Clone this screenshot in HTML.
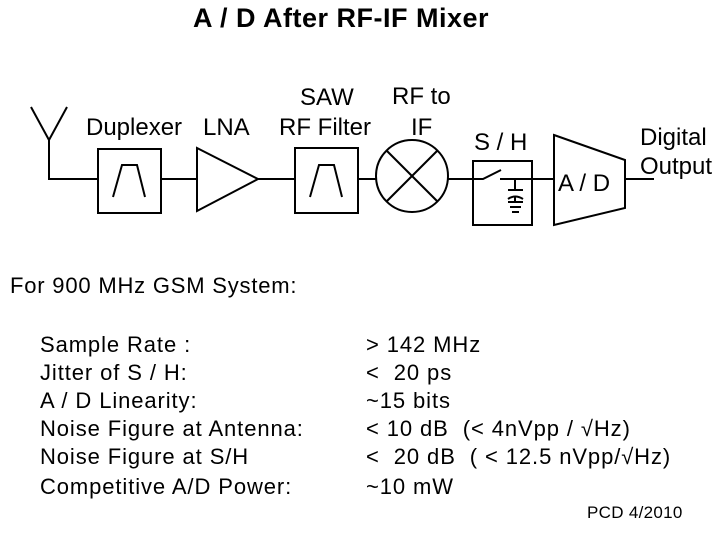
<!DOCTYPE html>
<html><head><meta charset="utf-8"><style>
html,body{margin:0;padding:0;background:#fff;}
body{width:720px;height:540px;position:relative;overflow:hidden;font-family:"Liberation Sans",Arial,sans-serif;color:#000;}
.t{position:absolute;white-space:nowrap;font-size:24px;line-height:1;}
.l{font-size:22px;letter-spacing:0.9px;}
</style></head><body>
<svg width="720" height="540" style="position:absolute;left:0;top:0" xmlns="http://www.w3.org/2000/svg">
<g fill="none" stroke="#000" stroke-width="2">
<polyline points="31,107 49,140 67,107"/>
<polyline points="49,140 49,179 98,179"/>
<rect x="98" y="149" width="63" height="64"/>
<polyline points="113,197 122,165 137,165 145,197"/>
<line x1="161" y1="179" x2="197" y2="179"/>
<polygon points="197,148 258,179 197,211"/>
<line x1="258" y1="179" x2="295" y2="179"/>
<rect x="295" y="148" width="63" height="65"/>
<polyline points="310,197 319,165 334,165 342,197"/>
<line x1="358" y1="179" x2="376" y2="179"/>
<circle cx="412" cy="176" r="36"/>
<line x1="387" y1="151" x2="437" y2="201"/>
<line x1="437" y1="151" x2="387" y2="201"/>
<line x1="448" y1="179" x2="473" y2="179"/>
<rect x="473" y="161" width="59" height="64"/>
<polyline points="473,179 483,179 501,170"/>
<line x1="500" y1="179" x2="554" y2="179"/>
<line x1="515" y1="179" x2="515" y2="190"/>
<line x1="508" y1="190" x2="523" y2="190"/>
<path d="M508,199 Q515,194 523,199"/>
<line x1="515" y1="197" x2="515" y2="202"/>
<line x1="508" y1="202" x2="523" y2="202"/>
<line x1="510" y1="207" x2="521" y2="207"/>
<line x1="512" y1="212" x2="519" y2="212"/>
<polygon points="554,135 625,160 625,208 554,225"/>
<line x1="625" y1="179" x2="654" y2="179"/>
</g>
</svg>
<div class="t" style="left:193px;top:5px;font-weight:bold;font-size:27px;letter-spacing:0.5px">A / D After RF-IF Mixer</div>
<div class="t" style="left:86px;top:116px">Duplexer</div>
<div class="t" style="left:203px;top:116px">LNA</div>
<div class="t" style="left:300px;top:86px">SAW</div>
<div class="t" style="left:279px;top:116px">RF Filter</div>
<div class="t" style="left:392px;top:85px">RF to</div>
<div class="t" style="left:411px;top:116px">IF</div>
<div class="t" style="left:474px;top:131px">S / H</div>
<div class="t" style="left:558px;top:172px">A / D</div>
<div class="t" style="left:640px;top:126px">Digital</div>
<div class="t" style="left:640px;top:155px">Output</div>
<div class="t" style="left:10px;top:275px;font-size:22px;letter-spacing:0.8px">For 900 MHz GSM System:</div>
<div class="t l" style="left:40px;top:334px">Sample Rate :</div>
<div class="t l" style="left:40px;top:362px">Jitter of S / H:</div>
<div class="t l" style="left:40px;top:390px">A / D Linearity:</div>
<div class="t l" style="left:40px;top:418px">Noise Figure at Antenna:</div>
<div class="t l" style="left:40px;top:446px">Noise Figure at S/H</div>
<div class="t l" style="left:40px;top:476px">Competitive A/D Power:</div>
<div class="t l" style="left:366px;top:334px">&gt; 142 MHz</div>
<div class="t l" style="left:366px;top:362px">&lt;&nbsp; 20 ps</div>
<div class="t l" style="left:366px;top:390px">~15 bits</div>
<div class="t l" style="left:366px;top:418px">&lt; 10 dB&nbsp; (&lt; 4nVpp / √Hz)</div>
<div class="t l" style="left:366px;top:446px">&lt;&nbsp; 20 dB&nbsp; ( &lt; 12.5 nVpp/√Hz)</div>
<div class="t l" style="left:366px;top:476px">~10 mW</div>
<div class="t" style="left:587px;top:504px;font-size:17px;letter-spacing:0.3px">PCD 4/2010</div>
</body></html>
